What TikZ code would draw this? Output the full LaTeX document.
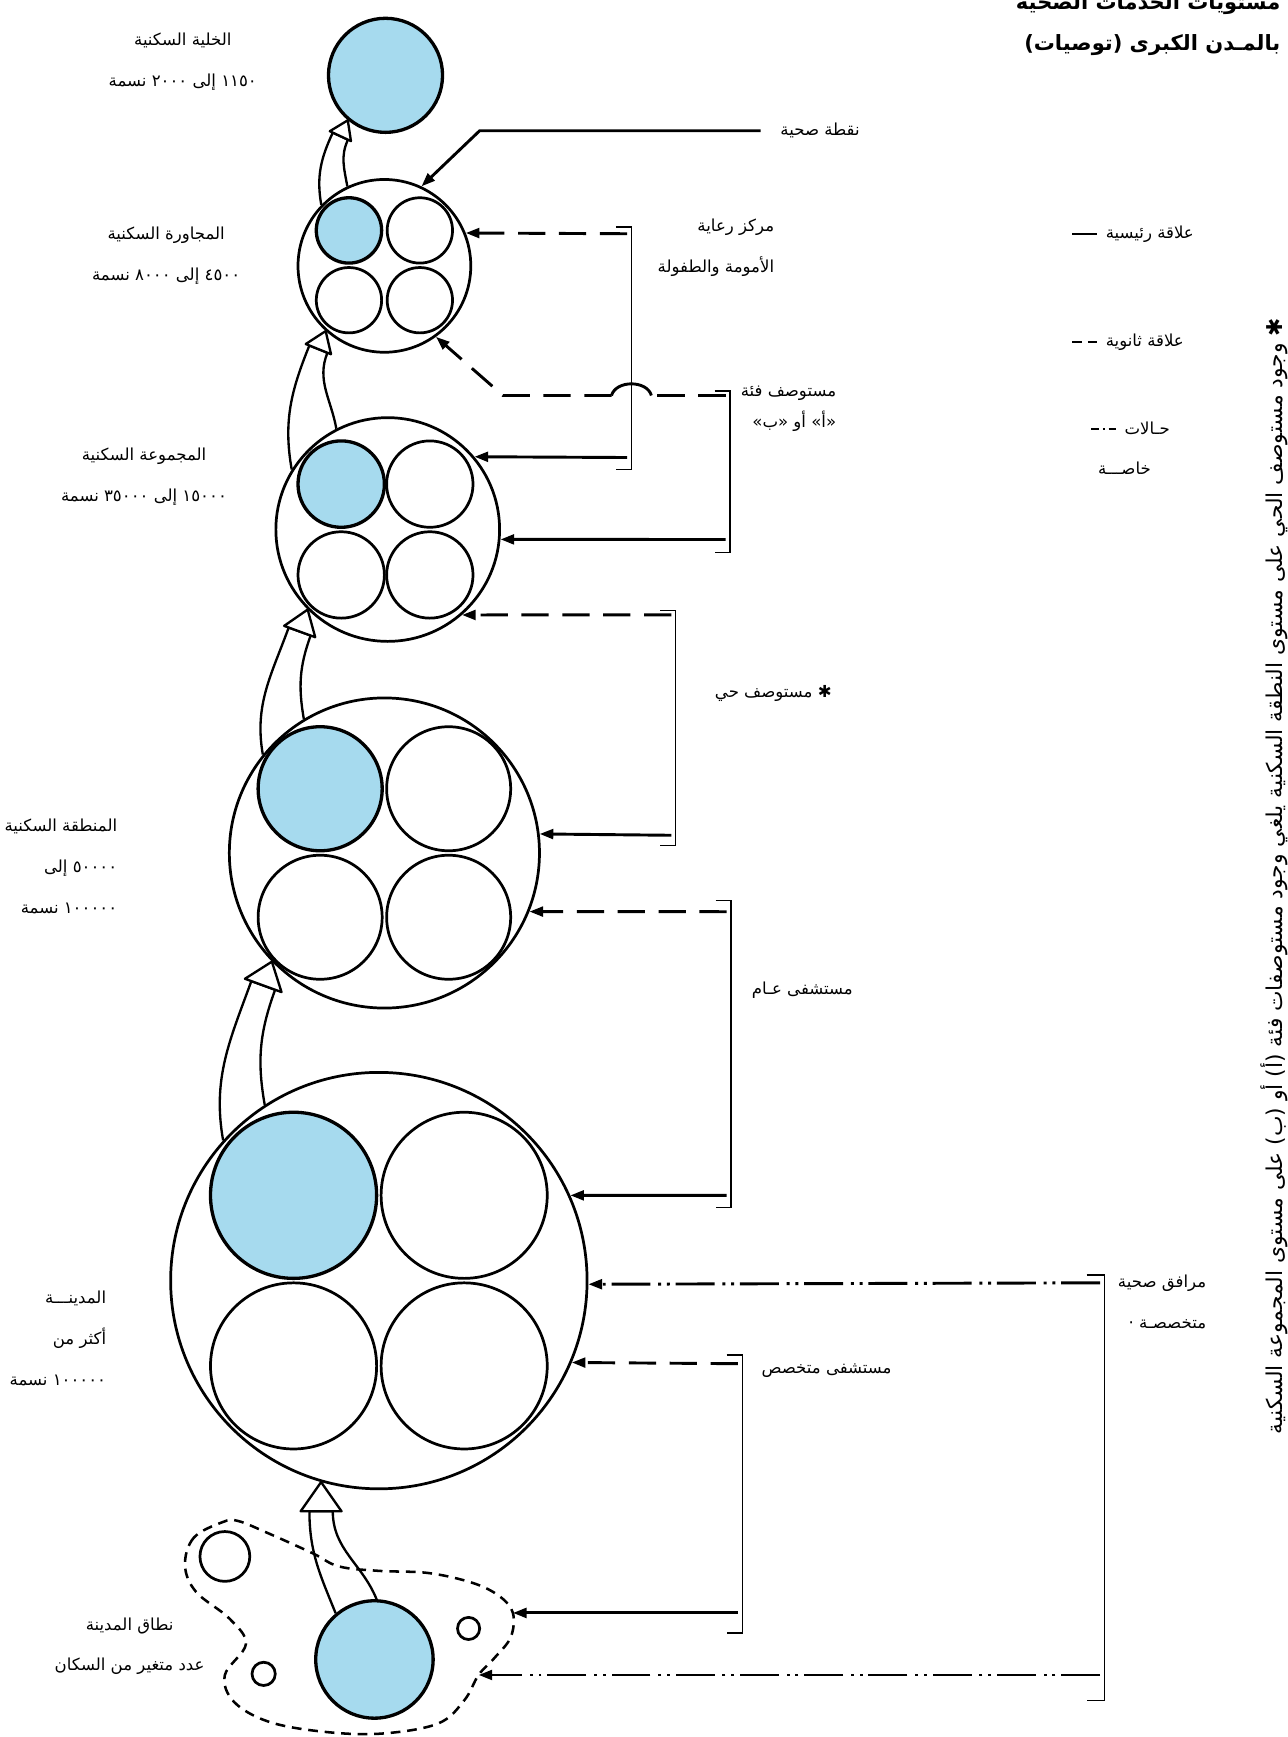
\documentclass[tikz,border=0pt]{standalone}
\usepackage{fontspec}
\usetikzlibrary{arrows.meta}
\newfontfamily\arabicfont[Script=Arabic]{DejaVu Sans}
\TeXXeTstate=1
\newcommand{\rtlt}[1]{\beginR#1\endR}
\definecolor{cellblue}{RGB}{166,218,238}
\pgfdeclarelayer{bg}
\pgfsetlayers{bg,main}
\begin{document}
\begin{tikzpicture}[x=0.02cm, y=-0.02cm,
  every node/.style={font=\arabicfont\fontsize{8.5pt}{21pt}\selectfont},
  ring/.style={circle, draw, line width=1.4pt, inner sep=0pt},
  cellfill/.style={fill=cellblue, line width=1.7pt},
  primary/.style={line width=1.5pt, -{Triangle[length=7pt, width=5pt]}},
  secondary/.style={primary, dash pattern=on 14pt off 7pt},
  special/.style={primary, dash pattern=on 20pt off 3pt on 1.5pt off 3pt on 1.5pt off 4pt},
  bracketline/.style={line width=0.7pt},
  shaftline/.style={line width=1.2pt, fill=white},
  headline/.style={line width=1.2pt, fill=white, line join=round},
  rimline/.style={line width=1.3pt, dash pattern=on 5pt off 3.5pt}]

  \useasboundingbox (0,0) rectangle (1162,1568);

  \node[anchor=east, align=right, font=\arabicfont\bfseries\fontsize{10.8pt}{21pt}\selectfont] (title) at (1162,22)
    {\rtlt{مستويات الخدمات الصحية}\\\rtlt{بالمـدن الكبرى (توصيات)}};

  \node[ring, cellfill, minimum size=2.06cm] (cell) at (348,68) {};

  \node[ring, minimum size=3.12cm] (nbhd) at (347,240) {};
  \node[ring, cellfill, minimum size=1.18cm] (nbhd1) at (315,208) {};
  \foreach \p [count=\k from 2] in {(379,208),(315,271),(379,271)}
    \node[ring, minimum size=1.18cm] (nbhd\k) at \p {};

  \node[ring, minimum size=4.04cm] (group) at (350,478) {};
  \node[ring, cellfill, minimum size=1.56cm] (group1) at (308,437) {};
  \foreach \p [count=\k from 2] in {(388,437),(308,519),(388,519)}
    \node[ring, minimum size=1.56cm] (group\k) at \p {};

  \node[ring, minimum size=5.6cm] (district) at (347,770) {};
  \node[ring, cellfill, minimum size=2.24cm] (district1) at (289,712) {};
  \foreach \p [count=\k from 2] in {(405,712),(289,828),(405,828)}
    \node[ring, minimum size=2.24cm] (district\k) at \p {};

  \node[ring, minimum size=7.52cm] (city) at (342,1156) {};
  \node[ring, cellfill, minimum size=3.0cm] (city1) at (265,1079) {};
  \foreach \p [count=\k from 2] in {(419,1079),(265,1233),(419,1233)}
    \node[ring, minimum size=3.0cm] (city\k) at \p {};

  \node[ring, cellfill, minimum size=2.12cm] (fringe) at (338,1498) {};
  \node[ring, minimum size=0.9cm] (fringe2) at (203,1405) {};
  \node[ring, minimum size=0.42cm] (fringe3) at (238,1511) {};
  \node[ring, minimum size=0.4cm] (fringe4) at (423,1470) {};
  \draw[rimline] plot[smooth cycle, tension=0.6] coordinates {(201,1374) (175,1388) (167,1413) (177,1437)
    (207,1461) (222,1484) (203,1512) (211,1536) (242,1554) (290,1563) (343,1565) (395,1556) (419,1535)
    (432,1512) (446,1497) (461,1478) (463,1456) (451,1441) (427,1429) (387,1420) (342,1418) (306,1414)
    (282,1402) (242,1384) (215,1373)};
  \coordinate (rimE) at (463,1456);
  \coordinate (rimF) at (432,1512);

  \foreach \src/\angA/\angB/\dst/\ao/\ai/\half/\hl/\hw in {fringe/130/88/city.254/112/270/6pt/15pt/21pt,
      city/138/123/district.224/100/250/6.5pt/13pt/20pt, district/141/121/group.225/100/250/6pt/12pt/17pt,
      group/148/117/nbhd.228/100/248/5pt/10pt/14pt, nbhd/136/115/cell.230/100/245/4.3pt/9pt/12pt}
  {
    \begin{pgfonlayer}{bg}
      \draw[shaftline] (\src.\angA) to[out=\ao, in=\ai] ([shift={(\ai:\hl)}, shift={(\ai-90:\half)}]\dst)
        -- ([shift={(\ai:\hl)}, shift={(\ai+90:\half)}]\dst) to[out=\ai, in=\ao] (\src.\angB);
    \end{pgfonlayer}
    \draw[headline] (\dst) -- ([shift={(\ai:\hl)}, shift={(\ai-90:\hw/2)}]\dst)
      -- ([shift={(\ai:\hl)}, shift={(\ai+90:\hw/2)}]\dst) -- cycle;
  }

  \node[anchor=east, inner xsep=10pt] (hpoint) at (794,118) {\rtlt{نقطة صحية}};
  \coordinate (hpbend) at (433,118);
  \draw[primary] (hpoint.west) -- (hpbend) -- (nbhd.65);

  \draw[bracketline] (556,205) -- (570,205) -- (570,424) -- (556,424);
  \coordinate (mchA) at (566,211);
  \coordinate (mchB) at (566,413);
  \draw[secondary] (mchA) -- (nbhd.22);
  \draw[primary] (mchB) -- (group.40);
  \node[anchor=east, align=right] (mchLbl) at (705,224) {\rtlt{مركز رعاية}\\\rtlt{الأمومة والطفولة}};

  \draw[bracketline] (645,353) -- (659,353) -- (659,499) -- (645,499);
  \coordinate (clinA) at (655,357);
  \coordinate (hopR) at (588,357);
  \coordinate (hopL) at (552,357);
  \coordinate (clinBend) at (454,357);
  \coordinate (clinB) at (655,487);
  \draw[secondary, -] (clinA) -- (hopR);
  \draw[line width=1.5pt] (hopR) .. controls (584,343) and (556,343) .. (hopL);
  \draw[secondary] (hopL) -- (clinBend) -- (nbhd.-54);
  \draw[primary] (clinB) -- (group.-5);
  \node[anchor=east, align=right, font=\arabicfont\fontsize{8.5pt}{16pt}\selectfont] (clinLbl) at (761,369)
    {\rtlt{مستوصف فئة}\\\rtlt{«أ» أو «ب»}};

  \draw[bracketline] (596,551) -- (610,551) -- (610,763) -- (596,763);
  \coordinate (nclinA) at (606,555);
  \coordinate (nclinB) at (606,754);
  \draw[secondary] (nclinA) -- (group.-49);
  \draw[primary] (nclinB) -- (district.7);
  \node[anchor=east] (nclinLbl) at (757,626) {\rtlt{✱ مستوصف حي}};

  \draw[bracketline] (646,813) -- (660,813) -- (660,1090) -- (646,1090);
  \coordinate (hospA) at (656,823);
  \coordinate (hospB) at (656,1079);
  \draw[secondary] (hospA) -- (district.-22);
  \draw[primary] (hospB) -- (city.24);
  \node[anchor=east] (hospLbl) at (776,894) {\rtlt{مستشفى عـام}};

  \draw[bracketline] (656,1223) -- (670,1223) -- (670,1474) -- (656,1474);
  \coordinate (spcA) at (666,1231);
  \coordinate (spcB) at (666,1456);
  \draw[secondary] (spcA) -- (city.-23);
  \draw[primary] (spcB) -- (rimE);
  \node[anchor=east] (spcLbl) at (811,1237) {\rtlt{مستشفى متخصص}};

  \draw[bracketline] (981,1151) -- (997,1151) -- (997,1535) -- (981,1535);
  \coordinate (facA) at (993,1158);
  \coordinate (facB) at (993,1512);
  \draw[special] (facA) -- (city.-1);
  \draw[special] (facB) -- (rimF);
  \node[anchor=west, align=right] (facLbl) at (1003,1175) {\rtlt{مرافق صحية}\\\rtlt{متخصصـة ·}};

  \node[align=center] (cellLbl) at (165,56) {\rtlt{الخلية السكنية}\\\rtlt{١١٥٠ إلى ٢٠٠٠ نسمة}};
  \node[align=center] (nbhdLbl) at (150,231) {\rtlt{المجاورة السكنية}\\\rtlt{٤٥٠٠ إلى ٨٠٠٠ نسمة}};
  \node[align=center] (groupLbl) at (130,430) {\rtlt{المجموعة السكنية}\\\rtlt{١٥٠٠٠ إلى ٣٥٠٠٠ نسمة}};
  \node[anchor=east, align=right] (districtLbl) at (112,782)
    {\rtlt{المنطقة السكنية}\\\rtlt{٥٠٠٠٠ إلى}\\\rtlt{١٠٠٠٠٠ نسمة}};
  \node[anchor=east, align=right] (cityLbl) at (102,1208)
    {\rtlt{المدينـــة}\\\rtlt{أكثر من}\\\rtlt{١٠٠٠٠٠ نسمة}};
  \node[align=center] (fringeLbl) at (117,1486) {\rtlt{نطاق المدينة}\\\rtlt{عدد متغير من السكان}};

  \draw[line width=1.2pt] (968,211) -- (990,211);
  \node[anchor=west] (lgMain) at (992,211) {\rtlt{علاقة رئيسية}};
  \draw[line width=1.2pt, dash pattern=on 5pt off 3pt] (968,309) -- (990,309);
  \node[anchor=west] (lgSecond) at (992,309) {\rtlt{علاقة ثانوية}};
  \draw[line width=1.2pt, dash pattern=on 4pt off 2pt on 1pt off 2pt] (985,387) -- (1007,387);
  \node[anchor=west] (lgSpecial) at (1009,387) {\rtlt{حـالات}};
  \node[anchor=west] (lgSpecial2) at (985,423) {\rtlt{خاصـــة}};

  \node[rotate=90, font=\arabicfont\fontsize{11.2pt}{12pt}\selectfont] (note) at (1150,791)
    {\rtlt{✱ وجود مستوصف الحي على مستوى النطقة السكنية يلغي وجود مستوصفات فئة (أ) أو (ب) على مستوى المجموعة السكنية}};
\end{tikzpicture}
\end{document}
